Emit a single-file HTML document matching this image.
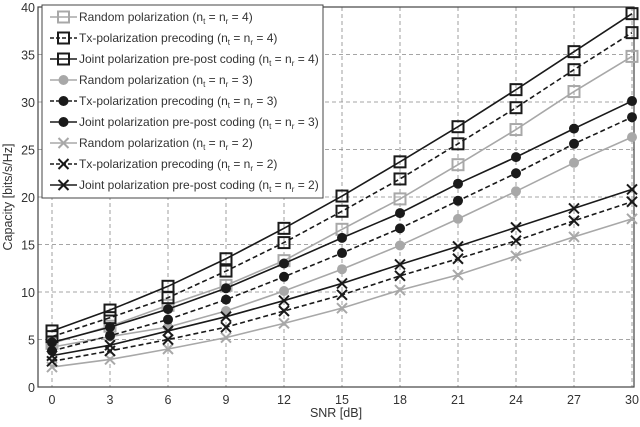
<!DOCTYPE html>
<html><head><meta charset="utf-8"><style>
body{margin:0;background:#fff;font-family:"Liberation Sans",sans-serif}
svg text{font-family:"Liberation Sans",sans-serif;fill:#333}
</style></head><body>
<svg id="chart" width="640" height="422">
<g id="grid"></g>
<g id="axes"></g>
<g id="series"></g>
<g id="legend"></g>
</svg>
<script>
const snr=[0,3,6,9,12,15,18,21,24,27,30];
const xTicks=[0,3,6,9,12,15,18,21,24,27,30];
const yTicks=[0,5,10,15,20,25,30,35,40];
const rand4=[4.6,6.4,8.6,10.7,13.3,16.6,19.8,23.4,27.1,31.1,34.8];
const tx4=[5.3,7.3,9.4,12.2,15.2,18.5,21.9,25.6,29.4,33.4,37.3];
const joint4=[5.9,8.1,10.6,13.5,16.7,20.1,23.7,27.4,31.3,35.3,39.3];
const rand3=[4.2,5.3,6.3,8.0,10.1,12.4,14.9,17.7,20.6,23.6,26.3];
const tx3=[3.8,5.4,7.1,9.2,11.6,14.1,16.7,19.6,22.5,25.6,28.4];
const joint3=[4.7,6.3,8.2,10.4,13.0,15.7,18.3,21.4,24.2,27.2,30.1];
const rand2=[2.1,2.9,4.0,5.2,6.7,8.3,10.2,11.8,13.8,15.8,17.7];
const tx2=[2.7,3.8,5.0,6.3,8.0,9.7,11.7,13.5,15.4,17.5,19.5];
const joint2=[3.3,4.4,5.9,7.4,9.1,10.9,12.9,14.8,16.8,18.8,20.8];
const X0=52,X1=632,Y0=387,Y1=7,FL=38,FR=634;
const sx=v=>X0+(v-0)/30*(X1-X0);
const sy=v=>Y0-(v/40)*(Y0-Y1);
const NS="http://www.w3.org/2000/svg";
function mk(t,a,p){const e=document.createElementNS(NS,t);for(const k in a)e.setAttribute(k,a[k]);p.appendChild(e);return e;}
const grid=document.getElementById('grid'),axes=document.getElementById('axes'),ser=document.getElementById('series'),leg=document.getElementById('legend');
xTicks.forEach(v=>{const l=mk('line',{x1:sx(v),x2:sx(v),y1:Y1,y2:Y0,stroke:'#888','stroke-dasharray':'4,3','stroke-width':0.8},grid);


const t=mk('text',{x:sx(v),y:Y0+17,'text-anchor':'middle','font-size':12.5},axes);t.textContent=v;

});
yTicks.forEach(v=>{const l=mk('line',{x1:FL,x2:FR,y1:sy(v),y2:sy(v),stroke:'#888','stroke-dasharray':'4,3','stroke-width':0.8},grid);


const t=mk('text',{x:FL-3,y:sy(v)+5,'text-anchor':'end','font-size':12.5},axes);t.textContent=v;

});
const fr=mk('rect',{x:FL,y:Y1,width:FR-FL,height:Y0-Y1,fill:'none',stroke:'#444','stroke-width':1.2},axes);


const xt=mk('text',{x:(FL+FR)/2,y:417,'text-anchor':'middle','font-size':12.5},axes);xt.textContent='SNR [dB]';


const yt=mk('text',{x:0,y:0,'text-anchor':'middle','font-size':12.5,transform:`translate(12,${(Y0+Y1)/2}) rotate(-90)`},axes);yt.textContent='Capacity [bits/s/Hz]';


const G='#a8a8a8',K='#1a1a1a';
const defs=[
 [rand4,G,null,'sq','Random polarization','4'],
 [tx4,K,'5,3','sq','Tx-polarization precoding','4'],
 [joint4,K,null,'sq','Joint polarization pre-post coding','4'],
 [rand3,G,null,'ci','Random polarization','3'],
 [tx3,K,'5,3','ci','Tx-polarization precoding','3'],
 [joint3,K,null,'ci','Joint polarization pre-post coding','3'],
 [rand2,G,null,'x','Random polarization','2'],
 [tx2,K,'5,3','x','Tx-polarization precoding','2'],
 [joint2,K,null,'x','Joint polarization pre-post coding','2']];
function marker(m,x,y,c,p){
 if(m==='sq')return mk('rect',{x:x-5.5,y:y-5.5,width:11,height:11,fill:'none',stroke:c,'stroke-width':2},p);
 if(m==='ci')return mk('circle',{cx:x,cy:y,r:5,fill:c},p);
 return mk('path',{d:`M${x-5},${y-5}L${x+5},${y+5}M${x-5},${y+5}L${x+5},${y-5}`,stroke:c,'stroke-width':2},p);
}
defs.forEach((d,i)=>{
 const [vals,c,da,m]=d;
 const pts=vals.map((v,j)=>sx(snr[j])+','+sy(v)).join(' ');
 const pl=mk('polyline',{points:pts,fill:'none',stroke:c,'stroke-width':1.6},ser);
 if(da)pl.setAttribute('stroke-dasharray',da);
 
 
 vals.forEach((v,j)=>{const mm=marker(m,sx(snr[j]),sy(v),c,ser);
 
 });
});
const lb=mk('rect',{x:42,y:5,width:281,height:193,fill:'#fff',stroke:'#444','stroke-width':1},leg);


defs.forEach((d,i)=>{
 const [vals,c,da,m,name,n]=d;const y=17+i*21;
 const g=mk('g',{},leg);
 
 
 const l=mk('line',{x1:50,x2:77,y1:y,y2:y,stroke:c,'stroke-width':1.6},g);
 if(da)l.setAttribute('stroke-dasharray','4,2');
 marker(m,63.5,y,c,g);
 const t=mk('text',{x:79,y:y+4,'font-size':12},g);
 t.innerHTML=`${name} (n<tspan dy="3" font-size="8">t</tspan><tspan dy="-3"> = n</tspan><tspan dy="3" font-size="8">r</tspan><tspan dy="-3"> = ${n})</tspan>`;
});
</script>
</body></html>
